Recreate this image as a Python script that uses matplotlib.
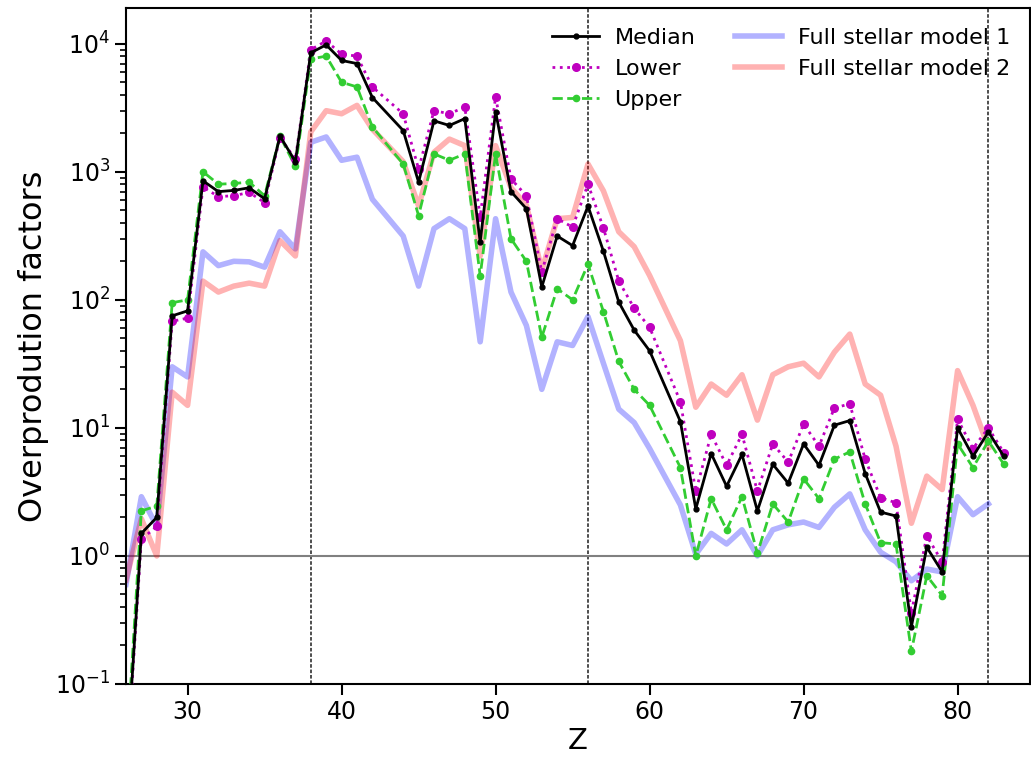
import matplotlib
matplotlib.use('Agg')
import matplotlib.pyplot as plt

# atomic number (no Tc / Pm points)
Z = [26, 27, 28, 29, 30, 31, 32, 33, 34, 35, 36, 37, 38, 39, 40, 41, 42, 44, 45, 46,
     47, 48, 49, 50, 51, 52, 53, 54, 55, 56, 57, 58, 59, 60, 62, 63, 64, 65, 66, 67,
     68, 69, 70, 71, 72, 73, 74, 75, 76, 77, 78, 79, 80, 81, 82, 83]

median = [0.02, 1.5, 2.0, 75, 82, 850, 700, 715, 750, 615, 1900, 1200, 8500, 9800, 7400, 7000,
          3800, 2100, 830, 2500, 2300, 2600, 283, 2950, 700, 515, 126, 315, 265, 540, 240, 96,
          58, 40, 11.2, 2.33, 6.3, 3.5, 6.2, 2.25, 5.2, 3.7, 7.5, 5.1, 10.5, 11.4, 4.4, 2.2,
          2.05, 0.28, 1.17, 0.75, 10, 6.0, 9.3, 6.0]

lower = [0.018, 1.35, 1.7, 68, 72, 760, 640, 650, 690, 575, 1850, 1250, 9000, 10500, 8300, 8000,
         4600, 2840, 1050, 3000, 2840, 3200, 445, 3850, 880, 650, 165, 430, 370, 800, 365, 140,
         86, 61, 16, 3.2, 8.9, 5.1, 8.9, 3.2, 7.5, 5.4, 10.7, 7.2, 14.3, 15.4, 5.7, 2.85,
         2.6, 0.36, 1.43, 0.9, 11.7, 6.9, 10, 6.4]

upper = [0.025, 2.25, 2.45, 95, 100, 1000, 800, 810, 830, 650, 1900, 1100, 7600, 8000, 5000, 4600,
         2240, 1150, 455, 1380, 1230, 1380, 154, 1380, 300, 200, 51, 122, 100, 190, 81, 33,
         20, 15, 4.9, 1.0, 2.8, 1.6, 2.9, 1.05, 2.55, 1.84, 4.0, 2.8, 5.7, 6.5, 2.55, 1.27,
         1.24, 0.18, 0.7, 0.49, 7.5, 4.9, 7.9, 5.2]

Z_model = Z[:-1]
model1 = [0.6, 2.9, 1.7, 30, 25, 237, 185, 200, 198, 180, 340, 250, 1700, 1870, 1230, 1300,
          610, 315, 128, 360, 430, 360, 47, 430, 115, 63, 20, 47, 44, 74, 32, 14,
          11, 6.9, 2.5, 1.03, 1.5, 1.24, 1.6, 1.0, 1.6, 1.75, 1.84, 1.67, 2.4, 3.05, 1.6, 1.07,
          0.9, 0.64, 0.79, 0.75, 2.9, 2.1, 2.55]
model2 = [0.65, 1.95, 1.0, 19, 15, 140, 115, 128, 135, 128, 290, 220, 2050, 3000, 2840, 3300,
          2150, 1200, 540, 1420, 1800, 1600, 220, 1600, 750, 550, 170, 430, 440, 1150, 710, 340,
          260, 155, 48, 14.5, 22, 18, 26, 11.5, 26, 30, 32, 25, 39, 54, 22, 18,
          7.2, 1.8, 4.2, 3.3, 28, 15, 7]

magic = [38, 56, 82]

fig = plt.figure(figsize=(10.31, 7.65), dpi=100)
ax = fig.add_axes([0.1222, 0.1059, 0.8768, 0.8836])

for z in magic:
    ax.axvline(z, color='k', ls=(0, (2, 1)), lw=1.3, alpha=0.75, zorder=1)
ax.axhline(1, color='grey', lw=1.5, zorder=1)

ax.plot(Z, median, 'k-', marker='o', ms=3.5, lw=2, label='Median', zorder=5)
ax.plot(Z, lower, ':', color='m', marker='o', ms=5.5, lw=2, label='Lower', zorder=4)
ax.plot(Z, upper, '--', color='limegreen', marker='o', ms=4.5, lw=2, label='Upper', zorder=3)
ax.plot(Z_model, model1, color='blue', alpha=0.3, lw=4, label='Full stellar model 1', zorder=2)
ax.plot(Z_model, model2, color='red', alpha=0.3, lw=4, label='Full stellar model 2', zorder=2)

ax.set_yscale('log')
ax.set_ylim(0.1, 1.9e4)
ax.set_xlim(26, 84.7)
ax.set_xticks([30, 40, 50, 60, 70, 80])

ax.tick_params(axis='both', which='major', labelsize=17, length=8, width=1.5)
ax.tick_params(axis='y', which='minor', length=4, width=1.2)
for s in ax.spines.values():
    s.set_linewidth(1.5)

ax.set_ylabel('Overprodution factors', fontsize=23)
ax.set_xlabel('Z', fontsize=21, labelpad=2)

ax.legend(ncol=2, loc='upper right', frameon=False, fontsize=16,
          handlelength=2.1, handletextpad=0.7, columnspacing=1.8,
          labelspacing=0.5, bbox_to_anchor=(1.0, 1.0))

fig.savefig('out.png', dpi=100)
